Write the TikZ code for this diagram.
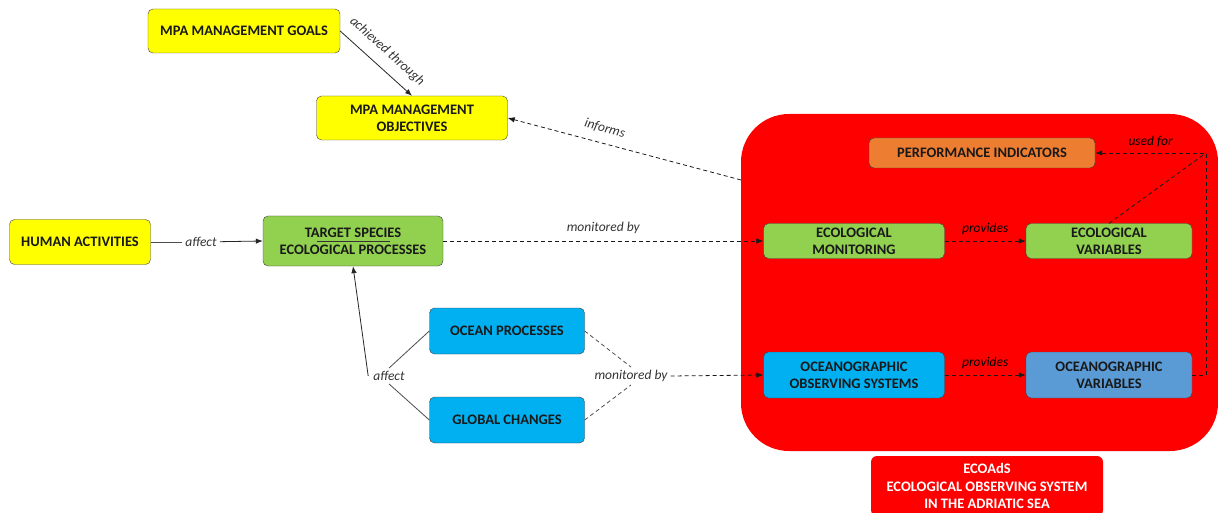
\documentclass[tikz,border=0pt]{standalone}
\usepackage{fontspec}
\setmainfont{Carlito}
\usepackage{tikz}
\usetikzlibrary{arrows.meta,positioning}

\definecolor{mpayellow}{HTML}{FFFF00}
\definecolor{ecogreen}{HTML}{92D050}
\definecolor{oceanblue}{HTML}{00B0F0}
\definecolor{varblue}{HTML}{5B9BD5}
\definecolor{perforange}{HTML}{ED7D31}
\definecolor{boxline}{HTML}{404040}

\tikzset{
  box/.style={draw=boxline, rounded corners=5pt, align=center, inner sep=2pt,
    text=black!90, font=\bfseries\fontsize{14.5}{17}\selectfont},
  lbl/.style={font=\itshape\fontsize{13.5}{15}\selectfont, text=black!80, inner sep=3pt},
  solidarr/.style={-{Latex[length=7pt,width=5.5pt]}, black!85, line width=0.8pt},
  dasharr/.style={-{Latex[length=7pt,width=5.5pt]}, black!90, line width=0.8pt, dash pattern=on 4pt off 3pt},
  dashline/.style={black!70, line width=0.8pt, dash pattern=on 4pt off 3pt},
  thinline/.style={black!70, line width=0.8pt}
}

\begin{document}
\begin{tikzpicture}[x=1pt,y=-1pt]
\useasboundingbox (0,0) rectangle (1218,513);

%%% The red box holds the ECOAdS part
\node[fill=red, rounded corners=48pt, minimum width=477pt, minimum height=337pt] (redbox) at (979.5,282.5) {};
\node[fill=red, rounded corners=6pt, minimum width=232pt, minimum height=60pt, align=center,
  text=white, font=\bfseries\fontsize{14.5}{17.5}\selectfont] (ecoads) at (987,486)
  {ECOAdS\\ECOLOGICAL OBSERVING SYSTEM\\IN THE ADRIATIC SEA};

%%% management side
\node[box, fill=mpayellow, minimum width=192pt, minimum height=44pt] (goals) at (244,31) {MPA MANAGEMENT GOALS};
\node[box, fill=mpayellow, minimum width=191pt, minimum height=44pt] (objectives) at (412,118) {MPA MANAGEMENT\\OBJECTIVES};
\node[box, fill=mpayellow, minimum width=141pt, minimum height=45pt] (human) at (80,242) {HUMAN ACTIVITIES};
\node[box, fill=ecogreen, minimum width=180pt, minimum height=50pt] (target) at (353,241) {TARGET SPECIES\\ECOLOGICAL PROCESSES};
\draw[black!80, line width=0.6pt] (317,241) -- (390,241);
\node[box, fill=oceanblue, minimum width=155pt, minimum height=46pt] (ocean) at (507,331) {OCEAN PROCESSES};
\node[box, fill=oceanblue, minimum width=155pt, minimum height=46pt] (global) at (507,420) {GLOBAL CHANGES};

%%% inside the red box
\node[box, fill=perforange, minimum width=226pt, minimum height=30pt] (perf) at (982,153) {PERFORMANCE INDICATORS};
\node[box, fill=ecogreen, minimum width=181pt, minimum height=35pt] (ecomon) at (854,241) {ECOLOGICAL\\MONITORING};
\node[box, fill=ecogreen, minimum width=166pt, minimum height=35pt] (ecovar) at (1109,241) {ECOLOGICAL\\VARIABLES};
\node[box, fill=oceanblue, minimum width=181pt, minimum height=46pt] (oceanobs) at (854,375) {OCEANOGRAPHIC\\OBSERVING SYSTEMS};
\node[box, fill=varblue, minimum width=166pt, minimum height=46pt] (oceanvar) at (1109,375) {OCEANOGRAPHIC\\VARIABLES};

%%% labels that sit between the lines
\node[lbl] (affA) at (201,242) {affect};
\node[lbl] (affB) at (389,376) {affect};
\node[lbl] (monB) at (631,376) {monitored by};
\coordinate (informsstart) at (741,180);
\coordinate (usedcorner) at (1206,153);

%
\draw[solidarr] (goals.east) -- (objectives.north)
  node[lbl, midway, sloped, above=7pt] {achieved through};
\draw[thinline] (human.east) -- (affA);
\draw[solidarr] (affA) -- (target.west);
\draw[thinline] (ocean.west) -- (affB.north);
\draw[thinline] (global.west) -- (affB.south);
\draw[solidarr] ([xshift=-2pt]affB.west) -- (target.south);
\draw[dasharr] (target.east) -- (ecomon.west)
  node[lbl, midway, above=4pt] {monitored by};
\draw[dasharr] (informsstart) -- (objectives.east)
  node[lbl, pos=0.6, sloped, above=6pt] {informs};
\draw[dashline] (ocean.east) -- (monB.north);
\draw[dashline] (global.east) -- (monB.south);
\draw[dasharr] (monB.east) -- (oceanobs.west);
\draw[dasharr] (ecomon.east) -- (ecovar.west)
  node[lbl, midway, above=3pt, text=black] {provides};
\draw[dasharr] (oceanobs.east) -- (oceanvar.west)
  node[lbl, midway, above=3pt, text=black] {provides};
\draw[dasharr] (oceanvar.east) -| (usedcorner) -- (perf.east)
  node[lbl, midway, above=3pt, text=black] {used for};
\draw[dashline, black!90] (ecovar.north) -- (usedcorner);
\end{tikzpicture}
\end{document}
